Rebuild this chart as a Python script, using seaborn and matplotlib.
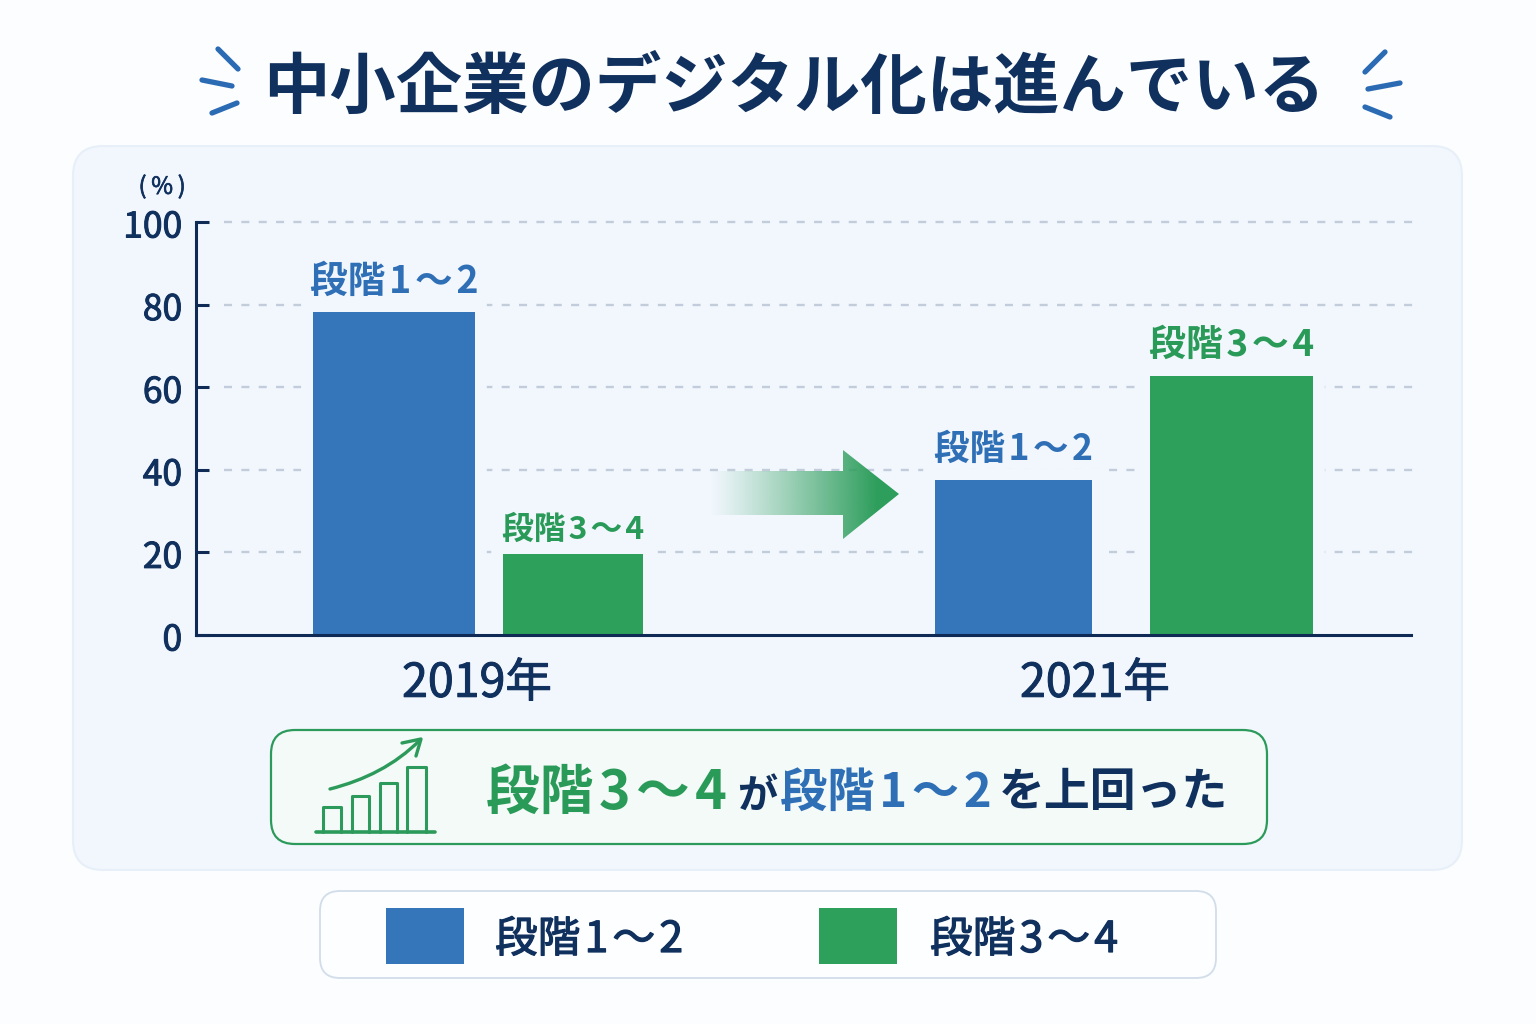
import numpy as np
import pandas as pd
import matplotlib
matplotlib.use("Agg")
import matplotlib.pyplot as plt
import seaborn as sns
from matplotlib.patches import FancyBboxPatch, Polygon, Rectangle
from matplotlib.path import Path
from matplotlib.patches import PathPatch
from matplotlib.transforms import ScaledTranslation
import matplotlib.patheffects as pe

# Data
years = ["2019年", "2021年"]
stages = ["段階\u200a1\u200a〜\u200a2", "段階\u200a3\u200a〜\u200a4"]
stage_low = [78.2, 37.6]
stage_high = [19.6, 62.8]
y_ticks = [0, 20, 40, 60, 80, 100]

title = "中小企業のデジタル化は進んでいる"
unit_label = "(\u2009%\u2009)"

# Palette
NAVY = "#10305E"
AXIS = "#0F2A55"
BLUE = "#3575B9"
BLUE_TXT = "#2F6FB6"
GREEN = "#2DA05C"
GREEN_TXT = "#2A9A58"
SPARK = "#2A6BB4"
PAGE = "#FBFDFE"
PANEL = "#F2F7FE"
GRID = "#C3CCDA"

sns.set_theme(style="white")
plt.rcParams["font.family"] = ["Noto Sans CJK JP", "DejaVu Sans"]
plt.rcParams["axes.unicode_minus"] = False

W, H = 1536, 1024
fig = plt.figure(figsize=(W / 100, H / 100), dpi=100, facecolor=PAGE)


def px_axes(zorder):
    a = fig.add_axes([0, 0, 1, 1], zorder=zorder)
    a.set_xlim(0, W)
    a.set_ylim(H, 0)
    a.axis("off")
    a.patch.set_alpha(0)
    return a


def rounded(a, x0, y0, x1, y1, r, **kw):
    a.add_patch(FancyBboxPatch((x0 + r, y0 + r), x1 - x0 - 2 * r, y1 - y0 - 2 * r,
                               boxstyle=f"round,pad={r},rounding_size={r}", **kw))


def thicken(color, width=0.7):
    # Regular weight with a thin stroke gives a medium look
    return [pe.withStroke(linewidth=width, foreground=color)]


# Page backing and the rounded chart panel
back = px_axes(0)
rounded(back, 73, 146, 1462, 870, 30, facecolor=PANEL, edgecolor="#E7EFF8", linewidth=1.5)

# Main chart axes
ax = fig.add_axes([196 / W, 1 - 635 / H, (1411 - 196) / W, (635 - 222) / H], zorder=1)
ax.patch.set_alpha(0)

df = pd.DataFrame({
    "year": years * 2,
    "stage": [stages[0]] * 2 + [stages[1]] * 2,
    "share": stage_low + stage_high,
})
sns.barplot(data=df, x="year", y="share", hue="stage", order=years, hue_order=stages,
            palette=[BLUE, GREEN], saturation=1, legend=False, ax=ax, zorder=2)

# x limits put the category ticks under the year labels
x_left = -(477 - 196) / 618
x_right = (1411 - 477) / 618
ax.set_xlim(x_left, x_right)
ax.set_ylim(0, 100)


def px_to_x(px):
    return x_left + (px - 196) / 618


# Horizontal placement of each bar in pixels: (stage, year) -> (left, right)
bar_spans = [[(313, 475), (935, 1092)], [(503, 643), (1150, 1313)]]
label_sizes = [[27.1, 25.6], [22.9, 26.6]]
label_lift = [[8, 8.5], [6, 8.5]]
label_colors = [BLUE_TXT, GREEN_TXT]

for s, cont in enumerate(ax.containers):
    for i, bar in enumerate(cont):
        l, r = bar_spans[s][i]
        bar.set_x(px_to_x(l))
        bar.set_width(px_to_x(r) - px_to_x(l))
        bar.set_linewidth(0)
        # The halo keeps the dashed guides clear of the bars
        bar.set_path_effects([pe.withStroke(linewidth=17, foreground=PANEL)])
        ax.annotate(stages[s], xy=(px_to_x((l + r) / 2), bar.get_height()),
                    xytext=(0, label_lift[s][i]), textcoords="offset points", ha="center", va="bottom",
                    fontsize=label_sizes[s][i], fontweight="bold",
                    color=label_colors[s], zorder=4)

ax.hlines([t for t in y_ticks if t > 0], px_to_x(224), px_to_x(1414), colors=GRID,
          linewidth=1.7, linestyles=(0, (3.4, 3.95)), zorder=1, clip_on=False)

for name in ("top", "right"):
    ax.spines[name].set_visible(False)
for name in ("left", "bottom"):
    ax.spines[name].set_color(AXIS)
    ax.spines[name].set_linewidth(2.2)
    ax.spines[name].set_zorder(5)

ax.set_yticks(y_ticks)
ax.set_yticklabels([str(t) for t in y_ticks], fontsize=25.5, color=NAVY)
ax.tick_params(axis="y", direction="in", length=9.5, width=2.2, color=AXIS, pad=10, left=True)
ax.tick_params(axis="x", length=0, pad=17.5)
ax.set_xticks([0, 1])
ax.set_xticklabels(years, fontsize=33.5, color=NAVY)
ax.set_xlabel("")
ax.set_ylabel("")
nudge = ScaledTranslation(0, -1.5 / 100, fig.dpi_scale_trans)
for lab in ax.get_yticklabels():
    lab.set_transform(lab.get_transform() + nudge)
    lab.set_path_effects(thicken(NAVY))
for lab in ax.get_xticklabels():
    lab.set_path_effects(thicken(NAVY))

# Everything placed in page pixels sits on this layer
top = px_axes(2)

top.text(794, 88, title, fontsize=47.8, fontweight="bold", color=NAVY, ha="center", va="center")
top.text(162, 187, unit_label, fontsize=17, color=NAVY, ha="center", va="center",
         path_effects=thicken(NAVY, 0.5))

# Sparkle strokes on both sides of the title
sparks_x = [[218, 238], [202, 232], [212, 237], [1385, 1365], [1400, 1368], [1390, 1365]]
sparks_y = [[49, 69], [80, 86], [113, 103], [52, 72], [83, 89], [117, 107]]
for xs, ys in zip(sparks_x, sparks_y):
    top.plot(xs, ys, color=SPARK, linewidth=3.8, solid_capstyle="round")

# Gradient arrow between the two years
arrow_pts = [(710, 471), (843, 471), (843, 450), (899, 494), (843, 539), (843, 515), (710, 515)]
arrow = Polygon(arrow_pts, closed=True, facecolor="none", edgecolor="none")
top.add_patch(arrow)
ramp = np.linspace(0, 1, 256) ** 1.1
rgba = np.zeros((1, 256, 4))
rgba[..., :3] = matplotlib.colors.to_rgb("#2E9E5C")
rgba[..., 3] = np.clip(ramp * 1.15, 0, 1)
img = top.imshow(rgba, extent=(710, 899, 539, 450), aspect="auto", interpolation="bilinear", zorder=3)
img.set_clip_path(arrow)
top.set_xlim(0, W)
top.set_ylim(H, 0)

# Callout box
CALL_EDGE = "#2C9A5A"
rounded(top, 271, 730, 1267, 844, 24, facecolor="#F3FAF8", edgecolor=CALL_EDGE, linewidth=1.6)

# Rising-bars icon
top.plot([316, 435], [832, 832], color=CALL_EDGE, linewidth=2.6, solid_capstyle="round")
for l, r, t in [(323, 341, 807), (352, 369, 796), (380, 397, 783), (407, 426, 767)]:
    top.plot([l, l, r, r], [832, t, t, 832], color=CALL_EDGE, linewidth=2.2,
             solid_joinstyle="round")
top.add_patch(PathPatch(Path([(330, 789), (365, 780), (395, 765), (420, 740)],
                             [Path.MOVETO, Path.CURVE4, Path.CURVE4, Path.CURVE4]),
                        facecolor="none", edgecolor=CALL_EDGE, linewidth=2.4, capstyle="round"))
top.plot([402, 421, 416], [743, 739, 756], color=CALL_EDGE, linewidth=2.4,
         solid_capstyle="round", solid_joinstyle="round")

# Callout message, one colour per run
call_y = 793
top.text(606, call_y, stages[1], fontsize=38.7, fontweight="bold", color=GREEN_TXT,
         ha="center", va="center")
top.text(757, call_y + 3, "が", fontsize=29, fontweight="bold", color=NAVY, ha="center", va="center")
top.text(886, call_y, stages[0], fontsize=34, fontweight="bold", color=BLUE_TXT,
         ha="center", va="center")
top.text(1113, call_y, "を上回った", fontsize=33, fontweight="bold", color=NAVY,
         ha="center", va="center")

# Legend
rounded(top, 320, 891, 1216, 978, 20, facecolor="#FDFEFF", edgecolor="#D2DDEA", linewidth=1.3)
top.add_patch(Rectangle((386, 908), 78, 56, facecolor=BLUE, edgecolor="none"))
top.add_patch(Rectangle((819, 908), 78, 56, facecolor=GREEN, edgecolor="none"))
top.text(589, 940, stages[0], fontsize=30.7, color=NAVY, ha="center", va="center",
         path_effects=thicken(NAVY, 0.9))
top.text(1024, 940, stages[1], fontsize=30.7, color=NAVY, ha="center", va="center",
         path_effects=thicken(NAVY, 0.9))

fig.savefig("out.png", dpi=100, facecolor=PAGE)
